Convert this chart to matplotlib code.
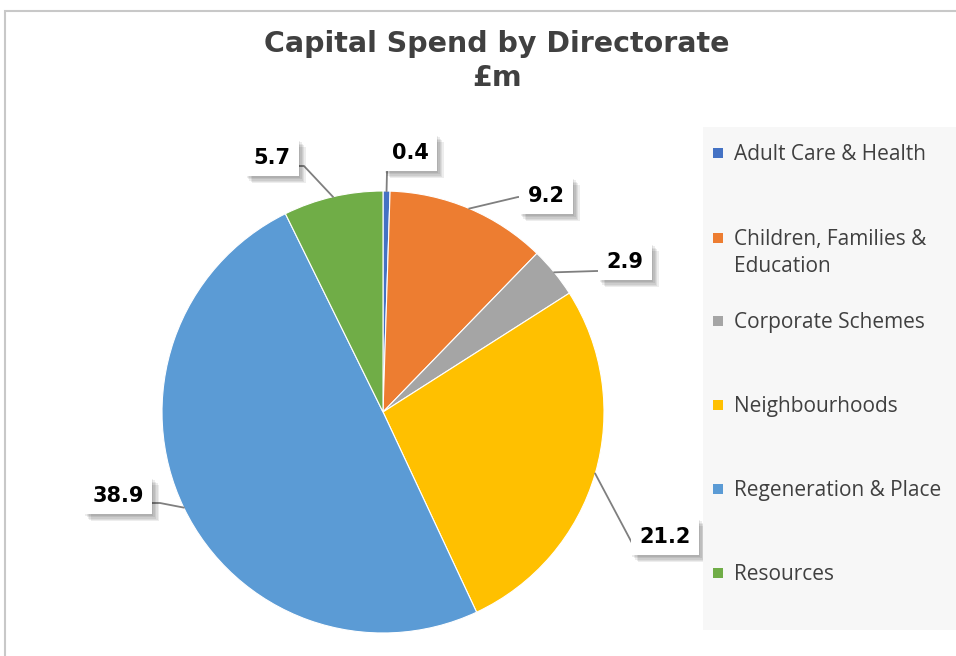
import matplotlib
matplotlib.use("Agg")
import matplotlib.pyplot as plt
import matplotlib.patheffects as pe
from matplotlib.patches import Rectangle
import numpy as np

# capital spend per directorate, £m
directorates = ["Adult Care & Health", "Children, Families &\nEducation", "Corporate Schemes",
                "Neighbourhoods", "Regeneration & Place", "Resources"]
spend = [0.4, 9.2, 2.9, 21.2, 38.9, 5.7]
colors = ["#4472C4", "#ED7D31", "#A5A5A5", "#FFC000", "#5B9BD5", "#70AD47"]

W, H = 956, 656
CX, CY, R = 383, 412, 221   # pie centre / radius in pixels

fig = plt.figure(figsize=(W / 100, H / 100), dpi=100)
fig.patch.set_facecolor("white")

# outer chart frame
fig.add_artist(Rectangle((5 / W, -0.1), 1.2, (H - 11) / H + 0.1, transform=fig.transFigure,
                         fill=False, edgecolor="#C8C8C8", linewidth=1.5))

ax = fig.add_axes([0, 0, 1, 1])

def px(x, y):
    return (x - CX) / R, (CY - y) / R

wedges, _ = ax.pie(spend, colors=colors, startangle=90, counterclock=False, radius=1.0,
                   wedgeprops=dict(edgecolor="white", linewidth=0.8))
ax.set_xlim(-CX / R, (W - CX) / R)
ax.set_ylim(-(H - CY) / R, CY / R)
ax.set_aspect("equal")
ax.axis("off")

# label box centres, leader elbows and line ends at the box (pixels)
label_pos = [(410, 153), (546, 196), (625, 262), (665, 537), (118, 496), (272, 158)]
elbows = [(387, 172), (518, 197), (597, 271), (632, 543), (160, 503), (304, 166)]
ends = [(387, 172), (529, 197), (600, 271), (636, 543), (150, 503), (296, 166)]

# soft drop shadow built from stacked offsets
shadow = [pe.SimplePatchShadow(offset=(d, -d), shadow_rgbFace="black", alpha=0.07)
          for d in (1, 2, 3, 4, 5)]

for w, v, (lx, ly), (ex, ey), (tx, ty) in zip(wedges, spend, label_pos, elbows, ends):
    mid = np.deg2rad((w.theta1 + w.theta2) / 2)
    xs = [np.cos(mid), px(ex, ey)[0], px(tx, ty)[0]]
    ys = [np.sin(mid), px(ex, ey)[1], px(tx, ty)[1]]
    ax.plot(xs, ys, color="#7F7F7F", linewidth=1.3, zorder=3)
    t = ax.text(*px(lx, ly), f"{v:.1f}", ha="center", va="center", fontsize=15,
                fontweight="bold", color="black", zorder=5,
                bbox=dict(boxstyle="square,pad=0.4", facecolor="white", edgecolor="none"))
    t.get_bbox_patch().set_path_effects(shadow + [pe.Normal()])

fig.text(497 / W, 1 - 44 / H, "Capital Spend by Directorate", ha="center", va="center",
         fontsize=20.5, fontweight="bold", color="#404040")
fig.text(497 / W, 1 - 78 / H, "£m", ha="center", va="center",
         fontsize=20.5, fontweight="bold", color="#404040")

# legend panel
fig.add_artist(Rectangle((703 / W, 1 - 630 / H), (W - 703) / W, (630 - 127) / H,
                         transform=fig.transFigure, facecolor="#F7F7F7", edgecolor="none"))
leg_y = [153, 238, 321, 405, 489, 573]
for name, c, y in zip(directorates, colors, leg_y):
    fig.add_artist(Rectangle((713 / W, 1 - (y + 5) / H), 10 / W, 10 / H,
                             transform=fig.transFigure, facecolor=c, edgecolor="none"))
    fig.text(734 / W, 1 - (y - 9) / H, name, ha="left", va="top", fontsize=15,
             color="#404040", family="Open Sans", linespacing=1.4)

fig.savefig("out.png", dpi=100)
